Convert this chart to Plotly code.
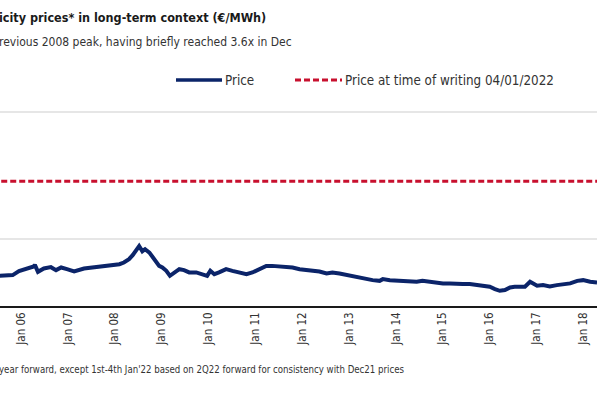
import plotly.graph_objects as go

# Price series (€/MWh)
price_dates = [
    "2005-07-13", "2005-10-28", "2005-12-16", "2006-02-10", "2006-04-10", "2006-04-19",
    "2006-05-13", "2006-06-28", "2006-08-22", "2006-10-01", "2006-11-10", "2006-12-25",
    "2007-02-19", "2007-05-07", "2007-07-22", "2007-10-10", "2007-12-28", "2008-02-07",
    "2008-03-13", "2008-04-22", "2008-05-22", "2008-06-25", "2008-07-10", "2008-08-04",
    "2008-08-25", "2008-09-28", "2008-10-19", "2008-11-22", "2008-12-13", "2009-01-07",
    "2009-02-07", "2009-03-07", "2009-04-10", "2009-05-19", "2009-06-25", "2009-08-04",
    "2009-09-28", "2009-11-16", "2009-12-22", "2010-01-16", "2010-02-16", "2010-03-25",
    "2010-05-19", "2010-07-07", "2010-09-01", "2010-10-25", "2010-12-10", "2011-02-04",
    "2011-03-28", "2011-05-13", "2011-07-07", "2011-09-01", "2011-10-19", "2011-12-13",
    "2012-02-07", "2012-03-22", "2012-05-16", "2012-07-10", "2012-08-25", "2012-10-19",
    "2012-12-13", "2013-01-31", "2013-03-25", "2013-05-19", "2013-07-04", "2013-08-28",
    "2013-09-22", "2013-11-16", "2014-01-10", "2014-02-25", "2014-04-19", "2014-06-13",
    "2014-07-28", "2014-09-22", "2014-11-16", "2015-01-04", "2015-02-28", "2015-04-22",
    "2015-06-07", "2015-08-01", "2015-09-25", "2015-11-10", "2016-01-04", "2016-02-13",
    "2016-03-22", "2016-05-01", "2016-06-10", "2016-07-16", "2016-08-25", "2016-10-04",
    "2016-11-13", "2016-12-07", "2017-01-07", "2017-02-22", "2017-04-16", "2017-06-10",
    "2017-07-28", "2017-09-22", "2017-11-16", "2018-01-01", "2018-02-25", "2018-04-19",
]
price_values = [
    42.7, 43.8, 50.0, 54.2, 57.3, 59.8,
    48.9, 54.2, 56.3, 51.6, 55.8, 53.1,
    49.5, 54.2, 55.8, 57.8, 59.8, 60.9,
    63.6, 68.8, 75.5, 84.4, 89.5, 81.3,
    84.4, 79.2, 73.9, 66.1, 58.3, 55.8,
    50.5, 42.7, 48.0, 53.1, 51.6, 48.0,
    48.0, 45.3, 42.7, 50.5, 45.3, 48.0,
    53.1, 50.5, 48.0, 45.3, 48.0, 53.1,
    58.3, 58.3, 57.3, 56.7, 55.8, 53.1,
    52.0, 51.6, 49.5, 46.4, 48.0, 46.4,
    44.2, 41.1, 39.1, 37.5, 35.9, 34.8,
    37.5, 35.9, 34.8, 33.9, 33.3, 33.3,
    34.8, 33.3, 33.3, 30.8, 30.8, 29.7,
    29.7, 29.7, 28.6, 27.0, 25.5, 21.9,
    19.2, 20.3, 24.5, 25.5, 25.5, 25.5,
    33.3, 29.7, 27.0, 28.1, 26.1, 28.1,
    29.7, 30.8, 34.8, 35.9, 33.3, 32.3,
]

# Price at time of writing (04/01/2022), constant reference level
ref_dates = ["2005-01-01", "2022-01-04"]
ref_values = [191.0, 191.0]

tick_years = list(range(2006, 2019))
tick_labels = ["Jan %02d" % (y % 100) for y in tick_years]

FONT = "DejaVu Sans Condensed, Liberation Sans Narrow, sans-serif"
NAVY = "#0b2469"
RED = "#c8102e"
TXT = "#333333"

fig = go.Figure()
fig.add_trace(go.Scatter(
    x=ref_dates, y=ref_values, mode="lines", name="Price at time of writing 04/01/2022",
    line=dict(color=RED, width=3, dash="6px,3px"), showlegend=False, hoverinfo="skip"))
fig.add_trace(go.Scatter(
    x=price_dates, y=price_values, mode="lines", name="Price",
    line=dict(color=NAVY, width=4), showlegend=False))

W, H = 597, 398
T, B = 100, 92
PH = H - T - B


def py(p):
    return (H - B - p) / PH


def px(p):
    return p / W


shapes = [
    dict(type="line", xref="paper", yref="paper", x0=px(176), x1=px(222), y0=py(80), y1=py(80),
         line=dict(color=NAVY, width=3.5)),
    dict(type="line", xref="paper", yref="paper", x0=px(295), x1=px(342), y0=py(80), y1=py(80),
         line=dict(color=RED, width=3, dash="6px,3px")),
]

annotations = [
    dict(text="<b>icity prices* in long-term context (€/MWh)</b>", x=px(-3), y=py(18),
         xref="paper", yref="paper", xanchor="left", yanchor="middle", showarrow=False,
         font=dict(family=FONT, size=12.5, color="#1a1a1a")),
    dict(text="revious 2008 peak, having briefly reached 3.6x in Dec", x=px(-3), y=py(42),
         xref="paper", yref="paper", xanchor="left", yanchor="middle", showarrow=False,
         font=dict(family=FONT, size=12, color=TXT)),
    dict(text="Price", x=px(223), y=py(80), xref="paper", yref="paper", xanchor="left",
         yanchor="middle", showarrow=False, font=dict(family=FONT, size=13.3, color=TXT)),
    dict(text="Price at time of writing 04/01/2022", x=px(343), y=py(80), xref="paper",
         yref="paper", xanchor="left", yanchor="middle", showarrow=False,
         font=dict(family=FONT, size=13.3, color=TXT)),
    dict(text="year forward, except 1st-4th Jan'22 based on 2Q22 forward for consistency with Dec21 prices",
         x=px(-3), y=py(369), xref="paper", yref="paper", xanchor="left", yanchor="middle",
         showarrow=False, font=dict(family=FONT, size=9.6, color=TXT)),
]

fig.update_layout(
    width=W, height=H,
    margin=dict(l=0, r=0, t=T, b=B, pad=0),
    paper_bgcolor="white", plot_bgcolor="white",
    font=dict(family=FONT, size=12, color=TXT),
    showlegend=False,
    shapes=shapes, annotations=annotations,
    xaxis=dict(
        type="date", range=["2005-07-21", "2018-04-19"],
        tickvals=["%d-01-01" % y for y in tick_years], ticktext=tick_labels,
        tickangle=-90, ticks="", showgrid=False, showline=True, linecolor="#1a1a1a",
        linewidth=1.5, tickfont=dict(family=FONT, size=11.5, color=TXT), fixedrange=True,
    ),
    yaxis=dict(
        range=[-4.7, 318.75], tickvals=[100, 300], showticklabels=False,
        showgrid=True, gridcolor="#e6e6e6", gridwidth=1.5, zeroline=False,
        showline=False, ticks="", fixedrange=True,
    ),
)

fig.write_html("out.html", config={"displayModeBar": False},
               post_script="document.body.style.margin='0';")
